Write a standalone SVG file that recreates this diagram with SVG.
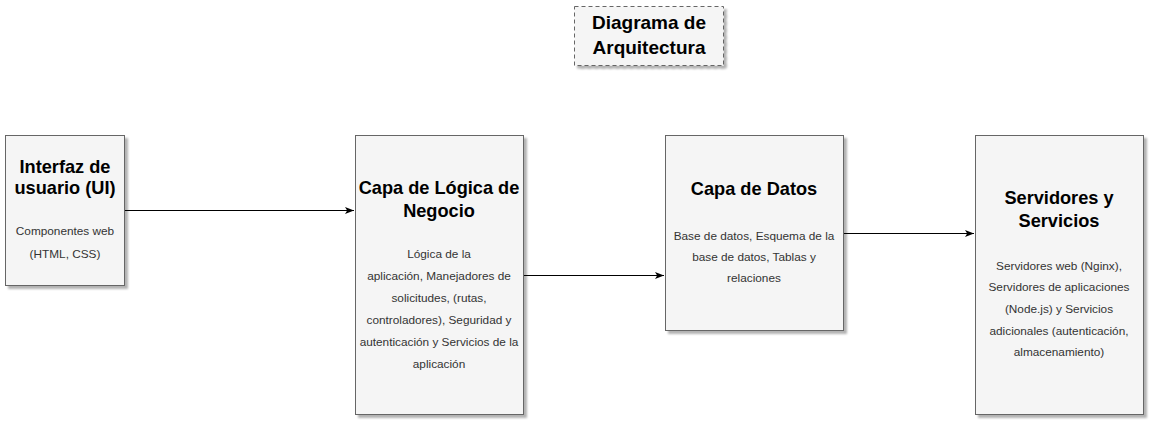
<svg xmlns="http://www.w3.org/2000/svg" width="1151" height="423" viewBox="0 0 1151 423">
<defs>
<style>
.box{fill:#f5f5f5;stroke:#666666;stroke-width:1;filter:url(#sh)}
.dash{stroke-dasharray:4 3}
.t{font-family:"Liberation Sans",Arial,sans-serif;font-weight:bold;font-size:18.2px;fill:#000;text-anchor:middle}
.tt{font-size:19px}
.b{font-family:"Liberation Sans",Arial,sans-serif;font-size:11.8px;fill:#333333;text-anchor:middle}
.c{stroke:#000;stroke-width:1;fill:none;marker-end:url(#ar)}
</style>
<filter id="sh" x="-10%" y="-10%" width="130%" height="130%">
<feGaussianBlur in="SourceAlpha" stdDeviation="1.2"/>
<feOffset dx="2.5" dy="2.5" result="o"/>
<feComponentTransfer><feFuncA type="linear" slope="0.3"/></feComponentTransfer>
<feMerge><feMergeNode/><feMergeNode in="SourceGraphic"/></feMerge>
</filter>
<marker id="ar" markerWidth="10" markerHeight="8" refX="9" refY="4" orient="auto" markerUnits="userSpaceOnUse">
<path d="M0,0.5 L9,4 L0,7.5 L2.2,4 Z" fill="#000"/>
</marker>
</defs>
<g id="title">
<rect class="box dash" x="574.5" y="6.5" width="149" height="59"/>
<text class="t tt" x="649" y="29">Diagrama de</text>
<text class="t tt" x="649" y="54">Arquitectura</text>
</g>
<g id="connectors">
<path class="c" d="M125,210.5 L354,210.5"/>
<path class="c" d="M524,275.5 L664,275.5"/>
<path class="c" d="M844,233.5 L974,233.5"/>
</g>
<g id="ui">
<rect class="box" x="5.5" y="135.5" width="119" height="150"/>
<text class="t" x="65" y="173">Interfaz de</text>
<text class="t" x="65" y="194">usuario (UI)</text>
<text class="b" x="65" y="235">Componentes web</text>
<text class="b" x="65" y="258">(HTML, CSS)</text>
</g>
<g id="logic">
<rect class="box" x="355.5" y="135.5" width="168" height="279"/>
<text class="t" x="439" y="194">Capa de Lógica de</text>
<text class="t" x="439" y="217">Negocio</text>
<text class="b" x="439" y="258">Lógica de la</text>
<text class="b" x="439" y="280">aplicación, Manejadores de</text>
<text class="b" x="439" y="302">solicitudes, (rutas,</text>
<text class="b" x="439" y="324">controladores), Seguridad y</text>
<text class="b" x="439" y="346">autenticación y Servicios de la</text>
<text class="b" x="439" y="368">aplicación</text>
</g>
<g id="data">
<rect class="box" x="665.5" y="135.5" width="178" height="195"/>
<text class="t" x="754" y="195">Capa de Datos</text>
<text class="b" x="754" y="240">Base de datos, Esquema de la</text>
<text class="b" x="754" y="261">base de datos, Tablas y</text>
<text class="b" x="754" y="282">relaciones</text>
</g>
<g id="servers">
<rect class="box" x="975.5" y="135.5" width="168" height="279"/>
<text class="t" x="1059" y="204">Servidores y</text>
<text class="t" x="1059" y="227">Servicios</text>
<text class="b" x="1059" y="270">Servidores web (Nginx),</text>
<text class="b" x="1059" y="291">Servidores de aplicaciones</text>
<text class="b" x="1059" y="313">(Node.js) y Servicios</text>
<text class="b" x="1059" y="335">adicionales (autenticación,</text>
<text class="b" x="1059" y="356">almacenamiento)</text>
</g>
</svg>
